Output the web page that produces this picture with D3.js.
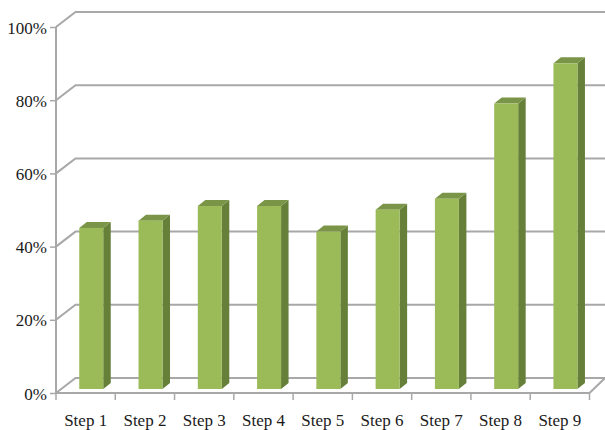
<!DOCTYPE html>
<html>
<head>
<meta charset="utf-8">
<style>
  html, body { margin: 0; padding: 0; background: #fff; }
  svg { display: block; }
  text { font-family: "Liberation Serif", serif; fill: #1a1a1a; }
</style>
<script src="https://cdn.jsdelivr.net/npm/d3@7/dist/d3.min.js"></script>
</head>
<body>
<svg id="chart" width="605" height="430"></svg>
<script>
const steps = ["Step 1", "Step 2", "Step 3", "Step 4", "Step 5", "Step 6", "Step 7", "Step 8", "Step 9"];
const shares = [44, 46, 50, 50, 43, 49, 52, 78, 89];
const axisTicks = [0, 20, 40, 60, 80, 100];

const svg = d3.select("#chart");

const x = d3.scaleBand().domain(steps).range([56, 589.5]);
const y = d3.scaleLinear().domain([0, 100]).range([393, 27]);

// Oblique projection of the chart box and of each bar's depth
const wall = { dx: 19.5, dy: -15 };
const barDepth = { dx: 7.5, dy: -6 };
const barWidth = 24;
const barShift = 5.6;
const barLift = 4;
const wallRight = 605;

const gridColor = "#a8a8a8";
const front = "#9bbb59";
const side = "#66803a";
const top_ = "#7a9547";

// Back wall gridlines, each joined to the axis by a short diagonal
svg.append("g").selectAll("path").data(axisTicks).join("path")
  .attr("fill", "none")
  .attr("stroke", gridColor)
  .attr("stroke-width", 2)
  .attr("d", t => d3.line()([
    [x.range()[0], y(t)],
    [x.range()[0] + wall.dx, y(t) + wall.dy],
    [wallRight, y(t) + wall.dy]
  ]));

// Floor edge on the right-hand side
svg.append("path")
  .attr("fill", "none")
  .attr("stroke", gridColor)
  .attr("stroke-width", 2)
  .attr("d", d3.line()([
    [x.range()[1], y(0)],
    [wallRight, y(0) + wall.dy]
  ]));

// Value axis
const yAxis = svg.append("g")
  .attr("transform", `translate(${x.range()[0]},0)`)
  .call(d3.axisLeft(y).tickValues(axisTicks).tickSize(6).tickPadding(3).tickFormat(d => d + "%"));

// Category axis: ticks sit on band edges, labels at band centres
const xAxis = svg.append("g")
  .attr("transform", `translate(0,${y(0)})`)
  .call(d3.axisBottom(x).tickSize(0).tickPadding(21));

xAxis.selectAll(".edge")
  .data(d3.range(steps.length + 1))
  .join("line")
  .attr("class", "edge")
  .attr("x1", i => x.range()[0] + i * x.bandwidth())
  .attr("x2", i => x.range()[0] + i * x.bandwidth())
  .attr("y1", 0)
  .attr("y2", 7);

[yAxis, xAxis].forEach(a => {
  a.selectAll("path.domain, line").attr("stroke", gridColor).attr("stroke-width", 2);
  a.selectAll("path.domain").attr("d", a === yAxis
    ? `M0,${y(100)}V${y(0)}`
    : `M${x.range()[0]},0H${x.range()[1]}`);
  a.selectAll("text").attr("fill", "#1a1a1a");
});
yAxis.selectAll("line").attr("stroke-width", 1.5);
xAxis.selectAll("line").attr("stroke-width", 1.5);
yAxis.selectAll("text").style("font-size", "17px").attr("dy", "0.36em");
xAxis.selectAll("text").style("font-size", "17px");

// Bars: side face, top face, then the front face
const bars = svg.append("g").selectAll("g")
  .data(steps.map((s, i) => ({ step: s, value: shares[i] })))
  .join("g");

const left = d => x(d.step) + x.bandwidth() / 2 + barShift - barWidth / 2;
const base = y(0) - barLift;
const topY = d => y(d.value) - barLift;

bars.append("path")
  .attr("fill", side)
  .attr("d", d => d3.line()([
    [left(d) + barWidth, topY(d)],
    [left(d) + barWidth + barDepth.dx, topY(d) + barDepth.dy],
    [left(d) + barWidth + barDepth.dx, base + barDepth.dy],
    [left(d) + barWidth, base]
  ]) + "Z");

bars.append("path")
  .attr("fill", top_)
  .attr("d", d => d3.line()([
    [left(d), topY(d)],
    [left(d) + barDepth.dx, topY(d) + barDepth.dy],
    [left(d) + barWidth + barDepth.dx, topY(d) + barDepth.dy],
    [left(d) + barWidth, topY(d)]
  ]) + "Z");

bars.append("rect")
  .attr("fill", front)
  .attr("x", left)
  .attr("y", topY)
  .attr("width", barWidth)
  .attr("height", d => base - topY(d));
</script>
</body>
</html>
